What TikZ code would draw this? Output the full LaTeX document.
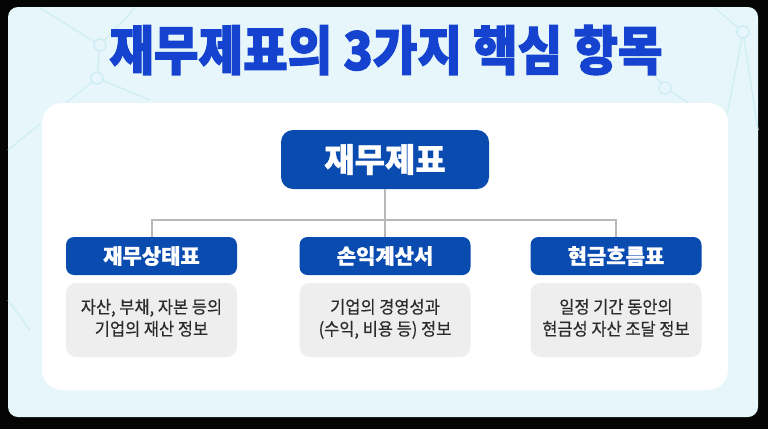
\documentclass[tikz,border=0pt]{standalone}
\usepackage{fontspec}
\usepackage{graphicx}
\setmainfont{Noto Sans CJK KR}
\newfontfamily\kr{Noto Sans CJK KR}
\newfontfamily\krheavy{Noto Sans CJK KR}[BoldFeatures={FakeBold=2.2}]
\newfontfamily\krbox{Noto Sans CJK KR}[BoldFeatures={FakeBold=1}]
\newfontfamily\krmed{Noto Sans CJK KR}[FakeBold=0.5]
\definecolor{bgblack}{HTML}{050505}
\definecolor{panel}{HTML}{E6F6FA}
\definecolor{deco}{HTML}{CFEEF4}
\definecolor{titleblue}{HTML}{1543CF}
\definecolor{boxblue}{HTML}{0A4BB0}
\definecolor{descgray}{HTML}{EEEEEF}
\definecolor{linegray}{HTML}{B8B8B8}
\definecolor{txtdark}{HTML}{2B2B2B}
\tikzset{
  titletext/.style={text=titleblue, font=\krheavy\bfseries\fontsize{51}{51}\selectfont, inner sep=0},
  topbox/.style={fill=boxblue, rounded corners=12pt, minimum width=208pt, minimum height=59pt, text=white, font=\krbox\bfseries\fontsize{33}{33}\selectfont, inner sep=0},
  catbox/.style={fill=boxblue, rounded corners=8pt, minimum width=171pt, minimum height=38pt, text=white, font=\krbox\bfseries\fontsize{21}{21}\selectfont, inner sep=0},
  descbox/.style={fill=descgray, rounded corners=10pt, minimum width=171pt, minimum height=74pt, inner sep=0},
  desctext/.style={text=txtdark, font=\krmed\fontsize{17.5}{22}\selectfont, align=center, inner sep=0},
  link/.style={draw=linegray, line width=2pt},
  decoline/.style={draw=deco, line width=1.2pt},
  decodot/.style={draw=deco, line width=1.5pt, fill=panel},
}
\begin{document}
\begin{tikzpicture}[x=1pt,y=-1pt]
\fill[bgblack] (0,0) rectangle (768,429);
\useasboundingbox (0,0) rectangle (768,429);
\fill[panel, rounded corners=10pt] (8,7) rectangle (758,417);
% background network decoration
\draw[decoline] (8,150) -- (97,78) -- (100,45) -- (135,8);
\draw[decoline] (97,78) -- (150,100);
\draw[decoline] (40,8) -- (100,45);
\draw[decoline] (758,130) -- (743,32) -- (715,8);
\draw[decoline] (743,32) -- (705,230);
\draw[decoline] (630,45) -- (665,88) -- (700,110);
\draw[decoline] (8,300) -- (30,330);
\draw[decodot] (100,45) circle (6);
\draw[decodot] (97,78) circle (6);
\draw[decodot] (743,32) circle (6);
\draw[decodot] (665,88) circle (6);
% card
\fill[deco!50, rounded corners=20pt] (40,103) rectangle (730,393);
\fill[white, rounded corners=20pt] (42,103) rectangle (728,390);
% title
\node[titletext] (title) at (386,50) {\scalebox{0.95}[1.04]{재무제표의 3가지 핵심 항목}};
% nodes
\node[topbox] (root) at (385,159.5) {재무제표};
\node[catbox] (c1) at (151.5,256) {재무상태표};
\node[catbox] (c2) at (385,256) {손익계산서};
\node[catbox] (c3) at (616,256) {현금흐름표};
\node[descbox] (d1) at (151.5,320) {};
\node[descbox] (d2) at (385,320) {};
\node[descbox] (d3) at (616,320) {};
\node[desctext] (t1) at (d1.center) {\scalebox{0.94}[1]{\begin{tabular}{@{}c@{}}자산, 부채, 자본 등의\\기업의 재산 정보\end{tabular}}};
\node[desctext] (t2) at (d2.center) {\scalebox{0.94}[1]{\begin{tabular}{@{}c@{}}기업의 경영성과\\(수익, 비용 등) 정보\end{tabular}}};
\node[desctext] (t3) at (d3.center) {\scalebox{0.94}[1]{\begin{tabular}{@{}c@{}}일정 기간 동안의\\현금성 자산 조달 정보\end{tabular}}};
% connectors
\coordinate (j) at (385,220);
\draw[link] (root.south) -- (c2.north);
\draw[link] (c1.north) -- (c1.north |- j) -- (c3.north |- j) -- (c3.north);
\end{tikzpicture}
\end{document}
